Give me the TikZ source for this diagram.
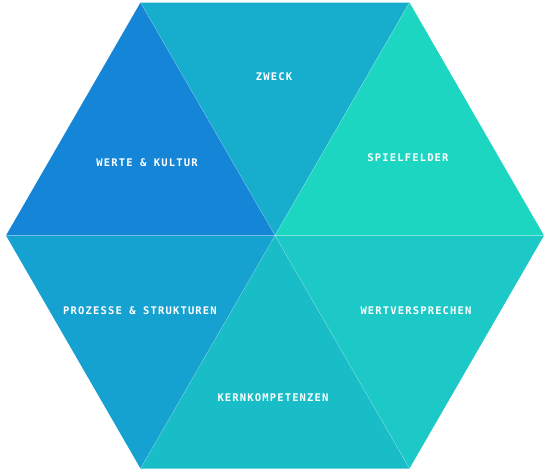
\documentclass[tikz,border=0pt]{standalone}
\usepackage{fontspec}
\usepackage{tikz}
\usetikzlibrary{positioning}
\usetikzlibrary{calc}

\newfontfamily\labelfont[LetterSpace=11]{DejaVu Sans Mono}

\definecolor{ZweckBlue}{HTML}{17AECD}
\definecolor{WerteBlue}{HTML}{1585D8}
\definecolor{SpielTeal}{HTML}{1DD6C2}
\definecolor{VersprTeal}{HTML}{1CC9C6}
\definecolor{KernTeal}{HTML}{18BDC7}
\definecolor{ProzBlue}{HTML}{15A2D1}

\tikzset{
	hexlabel/.style={
		font=\labelfont\bfseries\fontsize{10.5}{12}\selectfont,
		text=white,
		inner sep=0pt
	},
	seam/.style={
		draw=white,
		draw opacity=0.25,
		line width=0.6pt
	}
}

\begin{document}
\begin{tikzpicture}[x=1pt, y=-1pt]
	\useasboundingbox (0,0) rectangle (550,472);
	
	\coordinate (Center) at (275,235.5);
	\coordinate (Right) at (544,235.5);
	\coordinate (Left) at (6,235.5);
	\coordinate (TopLeft) at (140.5,2.5);
	\coordinate (TopRight) at (409.5,2.5);
	\coordinate (BotLeft) at (140.5,468.5);
	\coordinate (BotRight) at (409.5,468.5);
	
	% ---
	
	\fill[ZweckBlue] (TopLeft) -- (TopRight) -- (Center) -- cycle;
	\fill[WerteBlue] (TopLeft) -- (Center) -- (Left) -- cycle;
	\fill[SpielTeal] (TopRight) -- (Right) -- (Center) -- cycle;
	\fill[VersprTeal] (Right) -- (BotRight) -- (Center) -- cycle;
	\fill[KernTeal] (Center) -- (BotRight) -- (BotLeft) -- cycle;
	\fill[ProzBlue] (Left) -- (Center) -- (BotLeft) -- cycle;
	
	% ---
	
	\draw[seam] (TopLeft) -- (BotRight);
	\draw[seam] (TopRight) -- (BotLeft);
	\draw[seam] (Left) -- (Right);
	
	% ---
	
	\node[hexlabel] (Zweck) at (274,77) {ZWECK};
	\node[hexlabel] (Werte) at (147,163) {WERTE \& KULTUR};
	\node[hexlabel] (Spielfelder) at (408,158) {SPIELFELDER};
	\node[hexlabel] (Prozesse) at (140,311) {PROZESSE \& STRUKTUREN};
	\node[hexlabel] (Wertversprechen) at (416,311) {WERTVERSPRECHEN};
	\node[hexlabel] (Kern) at (273,397.5) {KERNKOMPETENZEN};
\end{tikzpicture}
\end{document}
